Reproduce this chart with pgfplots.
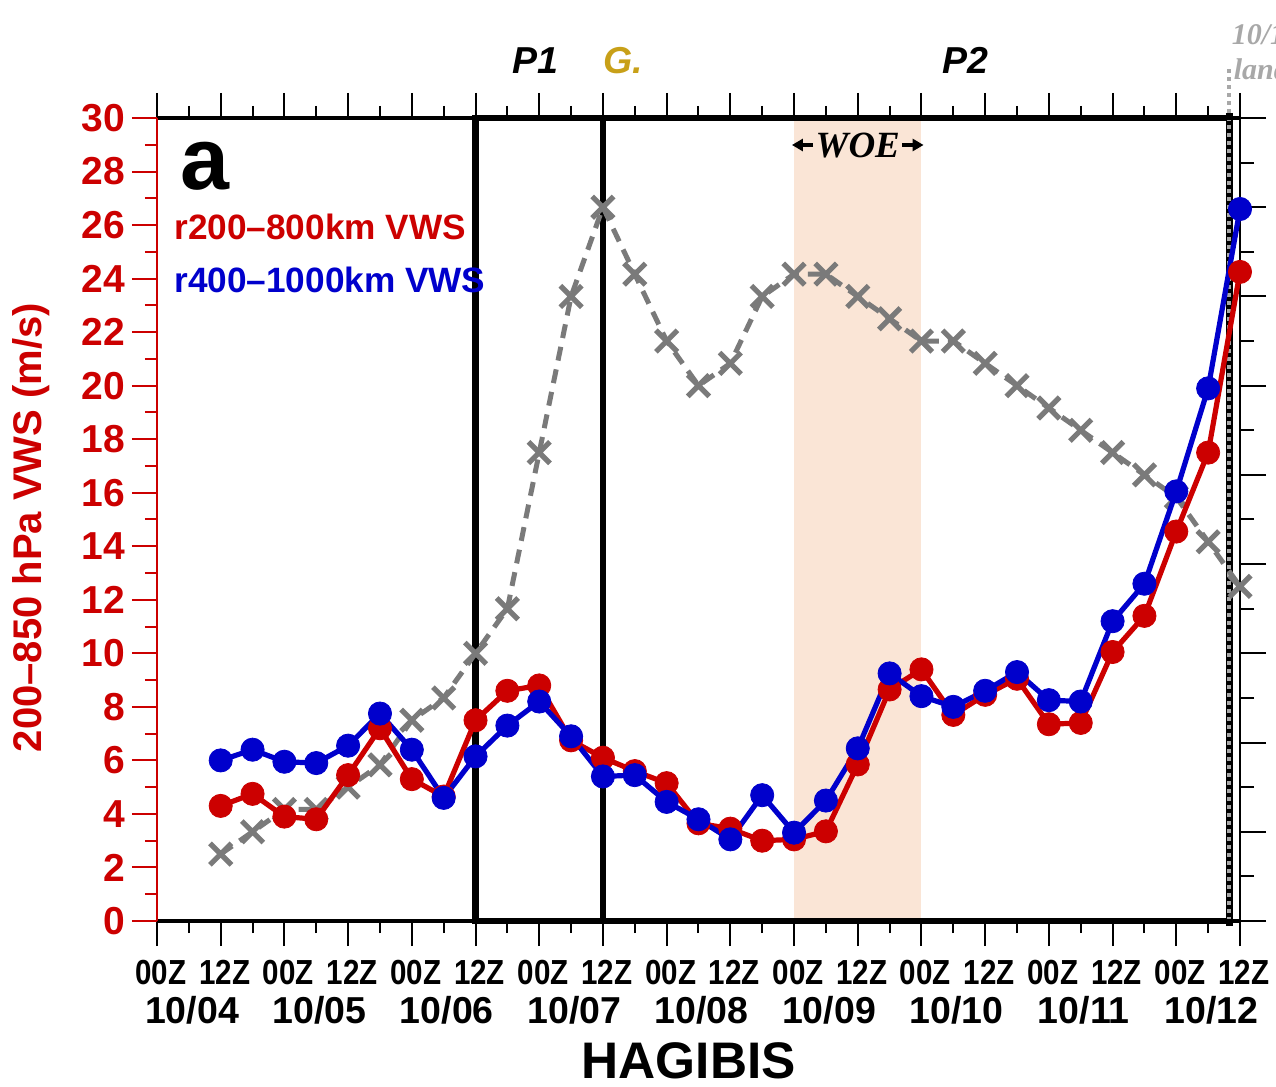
\documentclass[border=0pt]{standalone}
\usepackage{pgfplots}
\usepackage{pgfplotstable}
\pgfplotsset{compat=1.18}
\usetikzlibrary{arrows.meta}
\usepackage{fontspec}
\setmainfont{Liberation Sans}
\newfontfamily\narrowfont[FakeStretch=0.85]{Liberation Sans}
\newfontfamily\seriffont{Liberation Serif}

\definecolor{vwsred}{RGB}{204,0,0}
\definecolor{vwsblue}{RGB}{0,0,204}
\definecolor{intgray}{RGB}{122,122,122}
\definecolor{woeshade}{RGB}{250,229,214}
\definecolor{genesis}{RGB}{200,160,24}
\definecolor{landgray}{RGB}{168,168,168}

% hours since 00Z 10/04; annular-mean 200-850 hPa shear (m/s)
\pgfplotstableread{
hour r200 r400
12 4.3 6.0
18 4.75 6.4
24 3.9 5.95
30 3.8 5.9
36 5.45 6.55
42 7.2 7.75
48 5.3 6.4
54 4.65 4.6
60 7.5 6.15
66 8.6 7.3
72 8.8 8.2
78 6.75 6.9
84 6.1 5.4
90 5.6 5.45
96 5.15 4.45
102 3.65 3.8
108 3.45 3.05
114 3.0 4.7
120 3.05 3.3
126 3.35 4.5
132 5.85 6.45
138 8.65 9.25
144 9.4 8.4
150 7.7 8.0
156 8.45 8.6
162 9.05 9.3
168 7.35 8.25
174 7.4 8.2
180 10.05 11.2
186 11.4 12.6
192 14.55 16.05
198 17.5 19.9
204 24.25 26.6
}\vwsdata

% best-track maximum wind (right axis)
\pgfplotstableread{
hour vmax
12 7.5
18 10
24 12.5
30 12.5
36 15
42 17.5
48 22.5
54 25
60 30
66 35
72 52.5
78 70
84 80
90 72.5
96 65
102 60
108 62.5
114 70
120 72.5
126 72.5
132 70
138 67.5
144 65
150 65
156 62.5
162 60
168 57.5
174 55
180 52.5
186 50
192 47.5
198 42.5
204 37.5
}\intdata

\tikzset{datelabel/.style={anchor=base, inner sep=0, font=\fontsize{18.75}{19}\selectfont\bfseries}}

\begin{document}
\begin{tikzpicture}
% ---- right axis: intensity, WOE shading and period box ----
\begin{axis}[
  at={(0,0)}, anchor=south west,
  scale only axis, width=541.5pt, height=401.5pt,
  xmin=0, xmax=204, ymin=0, ymax=90,
  axis x line=none, axis y line*=right,
  y axis line style={line width=1pt, -},
  ytick={0,10,...,90}, minor ytick={5,15,...,85}, yticklabels={},
  tick align=outside,
  major tick length=13pt, minor tick length=7pt,
  every tick/.style={black, line width=1pt},
  clip=false,
]
\fill[woeshade] (axis cs:120,0) rectangle (axis cs:144,90);
\draw[line width=3.3pt, line join=miter] (axis cs:202,0) -- (axis cs:60,0) -- (axis cs:60,90) -- (axis cs:202,90);
\draw[line width=3.3pt] (axis cs:202,-0.55) -- (axis cs:202,90.55);
\draw[line width=2.8pt] (axis cs:84,0) -- (axis cs:84,90);
\draw[landgray, line width=2pt, dash pattern=on 2pt off 2pt]
  (axis cs:202,0) -- ([yshift=26.5pt]axis cs:202,90);
\addplot[intgray, line width=2.5pt, dash pattern=on 7pt off 4.5pt,
  mark=x, mark size=7.6pt, mark options={solid, line width=2.6pt}]
  table[x=hour, y=vmax]{\intdata};
\end{axis}

% ---- left axis: vertical wind shear ----
\begin{axis}[
  at={(0,0)}, anchor=south west,
  scale only axis, width=541.5pt, height=401.5pt,
  xmin=0, xmax=204, ymin=0, ymax=30,
  axis x line*=box, axis y line*=left,
  x axis line style={line width=1.7pt, -},
  y axis line style={vwsred, line width=1pt, -},
  xtick={0,12,...,204}, minor xtick={6,18,...,198},
  xtick pos=both, xticklabel pos=lower,
  xticklabels={00Z,12Z,00Z,12Z,00Z,12Z,00Z,12Z,00Z,12Z,00Z,12Z,00Z,12Z,00Z,12Z,00Z,12Z},
  ytick={0,2,...,30}, minor ytick={1,3,...,29},
  tick align=outside,
  major tick length=12.5pt, minor tick length=6pt,
  every tick/.style={line width=1pt},
  xtick style={black},
  ytick style={vwsred},
  /pgf/number format/assume math mode=true,
  xticklabel style={font=\fontsize{17.4}{18}\narrowfont\bfseries, anchor=base, yshift=-19pt, xshift=2pt},
  yticklabel style={font=\fontsize{19.5}{20}\selectfont\bfseries, text=vwsred},
  clip=false,
]
\addplot[vwsred, line width=2.6pt, mark=*, mark size=5.8pt,
  mark options={solid, fill=vwsred, draw=vwsred, line width=0.4pt}]
  table[x=hour, y=r200]{\vwsdata};
\addplot[vwsblue, line width=2.6pt, mark=*, mark size=5.8pt,
  mark options={solid, fill=vwsblue, draw=vwsblue, line width=0.4pt}]
  table[x=hour, y=r400]{\vwsdata};

% date row under the hour labels
\node[datelabel] at ([xshift=17.5pt, yshift=-51pt]axis cs:0,0)   {10/04};
\node[datelabel] at ([xshift=17.5pt, yshift=-51pt]axis cs:24,0)  {10/05};
\node[datelabel] at ([xshift=17.5pt, yshift=-51pt]axis cs:48,0)  {10/06};
\node[datelabel] at ([xshift=17.5pt, yshift=-51pt]axis cs:72,0)  {10/07};
\node[datelabel] at ([xshift=17.5pt, yshift=-51pt]axis cs:96,0)  {10/08};
\node[datelabel] at ([xshift=17.5pt, yshift=-51pt]axis cs:120,0) {10/09};
\node[datelabel] at ([xshift=17.5pt, yshift=-51pt]axis cs:144,0) {10/10};
\node[datelabel] at ([xshift=17.5pt, yshift=-51pt]axis cs:168,0) {10/11};
\node[datelabel] at ([xshift=17.5pt, yshift=-51pt]axis cs:192,0) {10/12};
\node[anchor=base, inner sep=0, font=\fontsize{25.7}{26}\selectfont\bfseries]
  at ([yshift=-78.8pt]rel axis cs:0.491,0) {HAGIBIS};
\node[rotate=90, anchor=center, inner sep=0, text=vwsred, font=\fontsize{20}{20}\selectfont\bfseries]
  at ([xshift=-63pt]rel axis cs:0,0.49) {200–850 hPa VWS (m/s)};

% panel letter and series labels
\node[anchor=base west, inner sep=0, font=\fontsize{44}{44}\selectfont\bfseries]
  at ([xshift=11.5pt, yshift=365.5pt]rel axis cs:0,0) {a};
\node[anchor=base west, inner sep=0, text=vwsred, font=\fontsize{17.6}{18}\selectfont\bfseries]
  at ([xshift=8.5pt, yshift=340.5pt]rel axis cs:0,0) {r200–800km VWS};
\node[anchor=base west, inner sep=0, text=vwsblue, font=\fontsize{17.6}{18}\selectfont\bfseries]
  at ([xshift=8.5pt, yshift=314pt]rel axis cs:0,0) {r400–1000km VWS};

% period markers above the frame
\node[anchor=base, inner sep=0, font=\fontsize{18.75}{19}\selectfont\bfseries\itshape]
  at ([yshift=423.5pt]axis cs:71.2,0) {P1};
\node[anchor=base west, inner sep=0, text=genesis, font=\fontsize{18.75}{19}\selectfont\bfseries\itshape]
  at ([yshift=423.5pt]axis cs:84,0) {G.};
\node[anchor=base, inner sep=0, font=\fontsize{18.75}{19}\selectfont\bfseries\itshape]
  at ([yshift=423.5pt]axis cs:152.2,0) {P2};
% weakening-over-environment window label with its span arrows
\node[anchor=base, inner sep=0, font=\fontsize{18.5}{18}\seriffont\bfseries\itshape] (woe)
  at ([yshift=381.5pt]axis cs:132,0) {WOE};
\draw[line width=1.6pt, -{Triangle[length=5.5pt,width=6pt]}]
  ([xshift=-1pt, yshift=6.5pt]woe.base west) -- ([yshift=388pt]axis cs:119.6,0);
\draw[line width=1.6pt, -{Triangle[length=5.5pt,width=6pt]}]
  ([xshift=1pt, yshift=6.5pt]woe.base east) -- ([yshift=388pt]axis cs:144.4,0);
\node[anchor=base west, inner sep=0, text=landgray, font=\fontsize{15}{15}\seriffont\bfseries\itshape]
  at ([xshift=1pt, yshift=438pt]axis cs:202,0) {10/12};
\node[anchor=base west, inner sep=0, text=landgray, font=\fontsize{15}{15}\seriffont\bfseries\itshape]
  at ([xshift=2pt, yshift=420.5pt]axis cs:202,0) {landfall};
\end{axis}

\pgfresetboundingbox
\path[use as bounding box] (-78.5pt,-83pt) rectangle (559.5pt,460.5pt);
\end{tikzpicture}
\end{document}
